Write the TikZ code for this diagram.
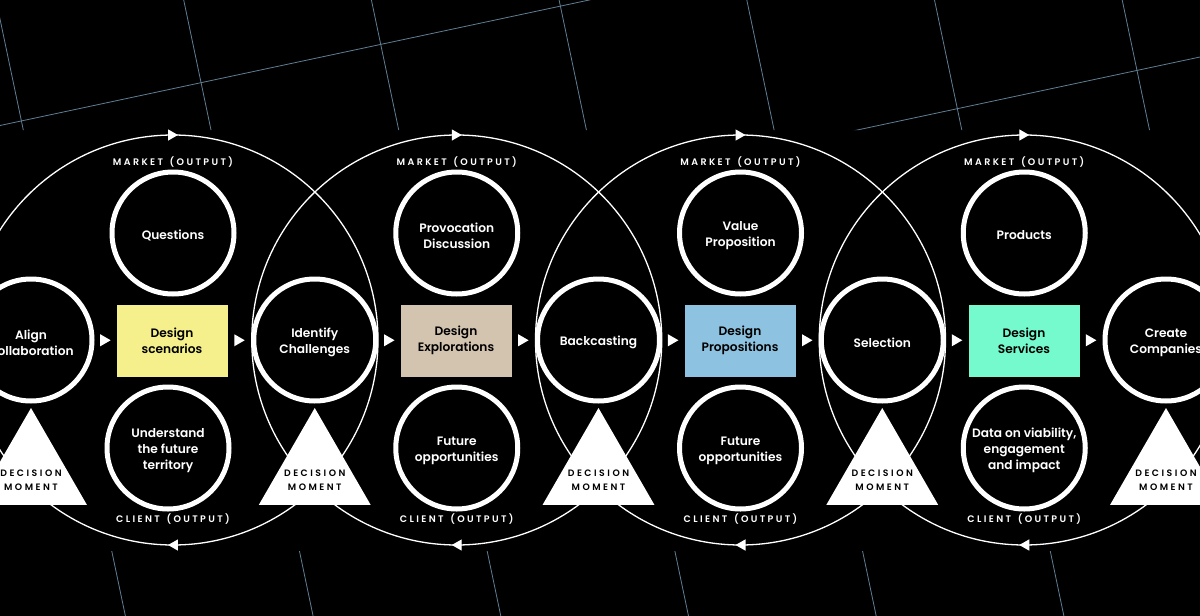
\documentclass[tikz,border=0pt]{standalone}
\usepackage{fontspec}
\setmainfont{Poppins SemiBold}
\newfontfamily\capsfont{Poppins SemiBold}[LetterSpace=25]
\newfontfamily\gatefont{Poppins SemiBold}[LetterSpace=27]
\usetikzlibrary{arrows.meta, positioning, shapes.geometric, decorations.markings}

\definecolor{gridline}{RGB}{96,126,146}
\definecolor{scenyellow}{RGB}{245,240,140}
\definecolor{explbeige}{RGB}{211,196,176}
\definecolor{propblue}{RGB}{141,195,224}
\definecolor{servmint}{RGB}{116,250,205}

\begin{document}
\begin{tikzpicture}[x=1pt, y=-1pt,
    ring/.style={circle, draw=white, line width=5pt, fill=black, minimum size=122pt,
        inner sep=0pt, label={[ringtext]center:{#1}}},
    ringtext/.style={align=center, text=white, yshift=-2.5pt,
        font=\fontsize{12.2}{16}\selectfont},
    stagebox/.style={rectangle, minimum width=111pt, minimum height=72pt, inner sep=0pt,
        align=center, text=black, font=\fontsize{12.2}{16}\selectfont},
    gate/.style={regular polygon, regular polygon sides=3, fill=white,
        minimum size=129.3pt, inner sep=0pt},
    gatetext/.style={align=center, text=black, yshift=-7.3pt,
        font=\gatefont\fontsize{9.3}{14}\selectfont},
    outlabel/.style={text=white, font=\capsfont\fontsize{9.5}{11}\selectfont},
    flowtip/.style={regular polygon, regular polygon sides=3, regular polygon rotate=-90,
        fill=white, minimum size=13.9pt, inner sep=0pt, xshift=-1.7pt},
    cycleline/.style={draw=white, line width=1.3pt,
        postaction={decorate, decoration={markings,
            mark=at position 0.25 with {\arrow[xshift=5pt]{Triangle[length=10pt,width=11pt]}},
            mark=at position 0.75 with {\arrow[xshift=5pt]{Triangle[length=10pt,width=11pt]}}}}},
    gridrule/.style={draw=gridline, line width=0.8pt}]

\fill [black] (0,0) rectangle (1200,616);
\useasboundingbox (0,0) rectangle (1200,616);

% background grid, only seen above and below the diagram
\begin{scope}
\clip (0,0) rectangle (1200,130) (0,551) rectangle (1200,616);
\foreach \k in {0,...,6}
  \draw [gridrule] (-4+187.7*\k,0) -- (125.4+187.7*\k,616);
\draw [gridrule] (0,125.5) -- (1200,-130.1);
\draw [gridrule] (0,312.6) -- (1200,57);
\end{scope}

% the four loops
\foreach \n/\cx in {1/173, 2/456.75, 3/740.5, 4/1024.25} {
  \coordinate (loop\n) at (\cx,340);
  \draw [cycleline] (loop\n) circle [radius=205];
  \node [outlabel] (market\n) at (\cx,162.5) {MARKET\hspace{2pt} (OUTPUT)};
  \node [outlabel] (client\n) at (\cx,519.5) {CLIENT\hspace{2pt} (OUTPUT)};
}

% decision moments
\foreach \n/\gx in {1/31, 2/314.75, 3/598.5, 4/882.25, 5/1166}
  \node [gate, label={[gatetext]center:{DECISION\\MOMENT}}] (gate\n) at (\gx,472.65) {};

% loop 1
\node [ring={Align\\Collaboration}]           (align)       at (31,340)      {};
\node [ring={Questions}]                      (questions)   at (173,233)     {};
\node [ring={Understand\\the future\\territory}] (territory) at (168,448)     {};
\node [stagebox, fill=scenyellow] (scenarios) at (172,340.5) {Design\\scenarios};

% loop 2
\node [ring={Identify\\Challenges}]           (challenges)  at (314.75,340)  {};
\node [ring={Provocation\\Discussion}]        (provocation) at (456.75,233)  {};
\node [ring={Future\\opportunities}]          (futureA)     at (456.75,448)  {};
\node [stagebox, fill=explbeige] (explorations) at (456,340.5) {Design\\Explorations};

% loop 3
\node [ring={Backcasting}]                    (backcasting) at (598.5,340)   {};
\node [ring={Value\\Proposition}]             (valueprop)   at (740.5,233)   {};
\node [ring={Future\\opportunities}]          (futureB)     at (740.5,448)   {};
\node [stagebox, fill=propblue] (propositions) at (740,340.5) {Design\\Propositions};

% loop 4
\node [ring={Selection}]                      (selection)   at (882.25,340)  {};
\node [ring={Products}]                       (products)    at (1024.25,233) {};
\node [ring={{Data on viability,\\engagement\\and impact}}] (viability) at (1024.25,448) {};
\node [stagebox, fill=servmint] (services) at (1024,340.5) {Design\\Services};

\node [ring={Create\\Companies}]              (companies)   at (1166,340)    {};

% flow along the middle row
\path (align)        -- node [flowtip] (tip1) {} (scenarios);
\path (scenarios)    -- node [flowtip] (tip2) {} (challenges);
\path (challenges)   -- node [flowtip] (tip3) {} (explorations);
\path (explorations) -- node [flowtip] (tip4) {} (backcasting);
\path (backcasting)  -- node [flowtip] (tip5) {} (propositions);
\path (propositions) -- node [flowtip] (tip6) {} (selection);
\path (selection)    -- node [flowtip] (tip7) {} (services);
\path (services)     -- node [flowtip] (tip8) {} (companies);

\end{tikzpicture}
\end{document}
